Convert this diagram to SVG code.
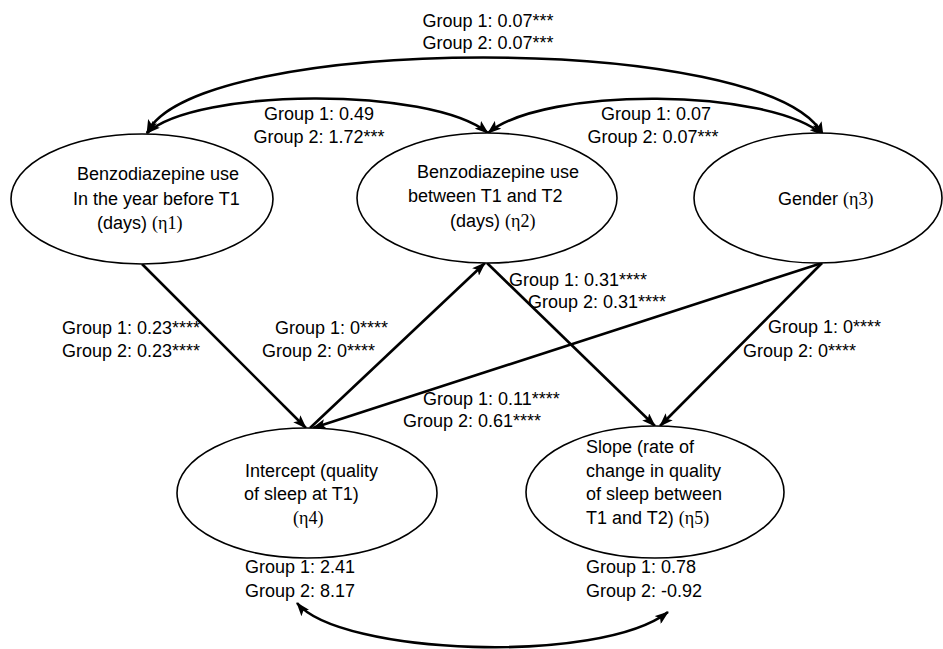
<svg xmlns="http://www.w3.org/2000/svg" width="943" height="649" viewBox="0 0 943 649">
<style>
text{font-family:"Liberation Sans",Arial,sans-serif;font-size:18px;fill:#000}
.m{text-anchor:middle}
.eta{font-family:"Liberation Serif","Times New Roman",serif;font-size:18px}
.node{fill:#fff;stroke:#000;stroke-width:1.6}
.c{fill:none;stroke:#000;stroke-width:2.6}
</style>
<defs>
<marker id="ah" viewBox="0 0 14 10" refX="13" refY="5" markerWidth="14" markerHeight="10" orient="auto-start-reverse" markerUnits="userSpaceOnUse">
<path d="M0,0 L14,5 L0,10 L3,5 z" fill="#000"/>
</marker>
</defs>
<rect width="943" height="649" fill="#fff"/>
<g id="connectors">
<path class="c" d="M147,133 C195,33 770,31 823,135" marker-start="url(#ah)" marker-end="url(#ah)"/>
<path class="c" d="M147,133 C195,88 430,86 488,133" marker-start="url(#ah)" marker-end="url(#ah)"/>
<path class="c" d="M488,133 C545,86 770,88 823,135" marker-start="url(#ah)" marker-end="url(#ah)"/>
<path class="c" d="M142,264 L306,428" marker-end="url(#ah)"/>
<path class="c" d="M310,428 L485,263" marker-end="url(#ah)"/>
<path class="c" d="M487,263 L655,426" marker-end="url(#ah)"/>
<path class="c" d="M822,263 L313,428" marker-end="url(#ah)"/>
<path class="c" d="M822,263 L660,426" marker-end="url(#ah)"/>
<path class="c" d="M297,603 C340,655 600,665 668,612" marker-start="url(#ah)" marker-end="url(#ah)"/>
<text class="m" x="488" y="27">Group 1: 0.07***</text>
<text class="m" x="488" y="49">Group 2: 0.07***</text>
<text class="m" x="319" y="120">Group 1: 0.49</text>
<text class="m" x="319" y="143">Group 2: 1.72***</text>
<text class="m" x="656" y="120">Group 1: 0.07</text>
<text class="m" x="653" y="143">Group 2: 0.07***</text>
<text x="62" y="334">Group 1: 0.23****</text>
<text x="62" y="357">Group 2: 0.23****</text>
<text x="275" y="334">Group 1: 0****</text>
<text x="262" y="357">Group 2: 0****</text>
<text x="509" y="286">Group 1: 0.31****</text>
<text x="528" y="308">Group 2: 0.31****</text>
<text x="423" y="405">Group 1: 0.11****</text>
<text x="403" y="427">Group 2: 0.61****</text>
<text x="768" y="333">Group 1: 0****</text>
<text x="743" y="357">Group 2: 0****</text>
</g>
<g id="eta1">
<ellipse class="node" cx="142" cy="199" rx="131" ry="65"/>
<text x="77" y="180">Benzodiazepine use</text>
<text x="73" y="205">In the year before T1</text>
<text x="97" y="229">(days) <tspan class="eta">(η1)</tspan></text>
</g>
<g id="eta2">
<ellipse class="node" cx="487" cy="198" rx="130" ry="65"/>
<text x="417" y="178">Benzodiazepine use</text>
<text x="408" y="202">between T1 and T2</text>
<text x="450" y="227">(days) <tspan class="eta">(η2)</tspan></text>
</g>
<g id="eta3">
<ellipse class="node" cx="818" cy="198" rx="124" ry="65"/>
<text x="778" y="205">Gender <tspan class="eta">(η3)</tspan></text>
</g>
<g id="eta4">
<ellipse class="node" cx="307" cy="493" rx="130" ry="65"/>
<text x="245" y="477">Intercept (quality</text>
<text x="244" y="500">of sleep at T1)</text>
<text x="293" y="524" class="eta">(η4)</text>
<text x="245" y="573">Group 1: 2.41</text>
<text x="245" y="597">Group 2: 8.17</text>
</g>
<g id="eta5">
<ellipse class="node" cx="655" cy="492" rx="129" ry="66"/>
<text x="586" y="453">Slope (rate of</text>
<text x="586" y="477">change in quality</text>
<text x="586" y="500">of sleep between</text>
<text x="586" y="524">T1 and T2) <tspan class="eta">(η5)</tspan></text>
<text x="586" y="573">Group 1: 0.78</text>
<text x="586" y="597">Group 2: -0.92</text>
</g>
</svg>
